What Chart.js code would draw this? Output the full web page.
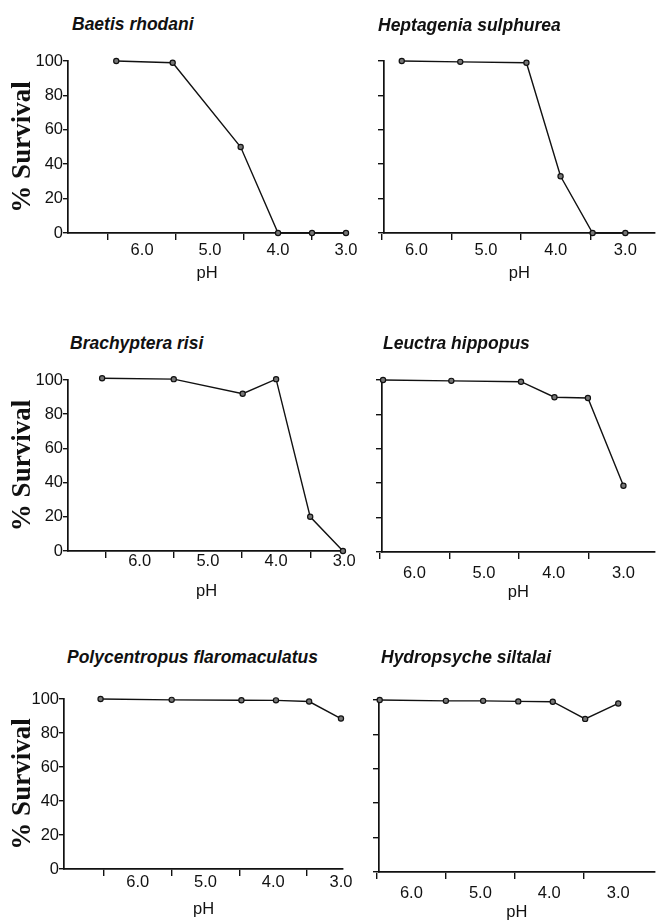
<!DOCTYPE html>
<html>
<head>
<meta charset="utf-8">
<script src="https://cdn.jsdelivr.net/npm/chart.js@4.4.1/dist/chart.umd.min.js"></script>
<style>
  body { margin: 0; background: #fff; width: 660px; height: 921px; position: relative; overflow: hidden; }
  canvas { position: absolute; }
  .species { position: absolute; font: italic bold 17.5px "Liberation Sans", Arial, sans-serif; color: #111; line-height: 18px; white-space: nowrap; }
</style>
</head>
<body>
<script>
// species, pH of each test, % survival
const species = ['Baetis rhodani', 'Heptagenia sulphurea', 'Brachyptera risi',
                 'Leuctra hippopus', 'Polycentropus flaromaculatus', 'Hydropsyche siltalai'];

const phBaetis = [6.38, 5.55, 4.55, 4.0, 3.5, 3.0];
const survBaetis = [100, 99, 50, 0, 0, 0];

const phHeptagenia = [6.21, 5.37, 4.42, 3.93, 3.47, 3.0];
const survHeptagenia = [100, 99.5, 99, 33, 0, 0];

const phBrachyptera = [6.55, 5.5, 4.49, 4.0, 3.5, 3.02];
const survBrachyptera = [101, 100.5, 92, 100.5, 20, 0];

const phLeuctra = [6.45, 5.47, 4.47, 3.99, 3.51, 3.0];
const survLeuctra = [100, 99.5, 99, 90, 89.5, 38.5];

const phPolycentropus = [6.55, 5.5, 4.47, 3.96, 3.47, 3.0];
const survPolycentropus = [100, 99.5, 99.3, 99.2, 98.5, 88.5];

const phHydropsyche = [6.46, 5.5, 4.96, 4.45, 3.95, 3.48, 3.0];
const survHydropsyche = [100, 99.5, 99.5, 99.2, 99, 89, 98];

const yTicks = [0, 20, 40, 60, 80, 100];
const pHLabels = [6.0, 5.0, 4.0, 3.0];
const pHMinor = [6.5, 5.5, 4.5, 3.5];

const series = [
  [phBaetis, survBaetis], [phHeptagenia, survHeptagenia],
  [phBrachyptera, survBrachyptera], [phLeuctra, survLeuctra],
  [phPolycentropus, survPolycentropus], [phHydropsyche, survHydropsyche]
];

// panel placement on the page (plot area edges, pH range shown, label gap)
const boxes = [
  {l: 68,  t: 61,  r: 346, b: 233, hi: 7.09,  lo: 3.0,  gap: 17, tx: 72,  ty: 24},
  {l: 384, t: 61,  r: 660, b: 233, hi: 6.465, lo: 2.577, gap: 17, tx: 378, ty: 25},
  {l: 68,  t: 380, r: 345, b: 551, hi: 7.05,  lo: 2.99, gap: 10, tx: 70,  ty: 343},
  {l: 382, t: 380, r: 660, b: 552, hi: 6.465, lo: 2.55, gap: 21, tx: 383, ty: 343},
  {l: 64,  t: 699, r: 343, b: 869, hi: 7.09,  lo: 2.97, gap: 13, tx: 67,  ty: 657},
  {l: 379, t: 700, r: 660, b: 872, hi: 6.47,  lo: 2.47, gap: 21, tx: 381, ty: 657}
];

const sans = '"Liberation Sans", Arial, sans-serif';
const ink = '#111';

function makePanel(i) {
  const box = boxes[i];
  const leftCol = i % 2 === 0;
  const padTop = 25, xH = 56, tickLen = 7;
  const canvasLeft = leftCol ? 0 : box.l - 20;
  const yW = box.l - canvasLeft;
  const padRight = leftCol ? 22 : 0;

  const canvas = document.createElement('canvas');
  canvas.width = box.r - canvasLeft + padRight;
  canvas.height = box.b - box.t + padTop + xH;
  canvas.style.left = canvasLeft + 'px';
  canvas.style.top = (box.t - padTop) + 'px';
  document.body.appendChild(canvas);

  const label = document.createElement('div');
  label.className = 'species';
  label.textContent = species[i];
  label.style.left = box.tx + 'px';
  label.style.top = (box.ty - 9) + 'px';
  document.body.appendChild(label);

  const [ph, surv] = series[i];
  const tickVals = [...pHMinor, ...pHLabels].sort((a, b) => b - a);

  new Chart(canvas, {
    type: 'line',
    data: {
      datasets: [{
        data: ph.map((p, k) => ({x: p, y: surv[k]})),
        borderColor: ink,
        borderWidth: 1.4,
        pointRadius: 2.6,
        pointBorderWidth: 1.2,
        pointBackgroundColor: '#777',
        pointBorderColor: '#111',
        tension: 0,
        clip: false
      }]
    },
    options: {
      responsive: false,
      animation: false,
      layout: {padding: {top: padTop, right: padRight, left: 0, bottom: 0}},
      plugins: {legend: {display: false}, tooltip: {enabled: false}},
      scales: {
        x: {
          type: 'linear',
          reverse: true,
          min: box.lo,
          max: box.hi,
          afterBuildTicks: axis => { axis.ticks = tickVals.map(v => ({value: v})); },
          afterFit: axis => { axis.height = xH; },
          border: {color: ink, width: 1.7},
          grid: {
            drawOnChartArea: false,
            tickLength: tickLen,
            lineWidth: 1.4,
            color: c => (c.tick && c.tick.value % 1 !== 0) ? ink : 'rgba(0,0,0,0)'
          },
          ticks: {
            autoSkip: false,
            maxRotation: 0,
            padding: box.gap - tickLen - 9.9,
            color: ink,
            font: {family: sans, size: 16.5},
            callback: v => pHLabels.includes(v) ? v.toFixed(1) : ''
          },
          title: {
            display: true, text: 'pH', color: ink,
            font: {family: sans, size: 16.5},
            padding: {top: 0, bottom: xH - 40 - 9.9}
          }
        },
        y: {
          min: 0,
          max: 100,
          afterBuildTicks: axis => { axis.ticks = yTicks.map(v => ({value: v})); },
          afterFit: axis => { axis.width = yW; },
          border: {color: ink, width: 1.7},
          grid: {drawOnChartArea: false, tickLength: leftCol ? 5 : 6, lineWidth: 1.4, color: ink},
          ticks: {
            padding: 0,
            color: ink,
            font: {family: sans, size: 16.5},
            callback: v => leftCol ? String(v) : ''
          },
          title: {
            display: leftCol,
            text: '% Survival',
            color: ink,
            font: {family: '"Liberation Serif", "Times New Roman", serif', size: 27, weight: 'bold'},
            padding: {top: 7, bottom: 0}
          }
        }
      }
    }
  });
}

boxes.forEach((b, i) => makePanel(i));
</script>
</body>
</html>
